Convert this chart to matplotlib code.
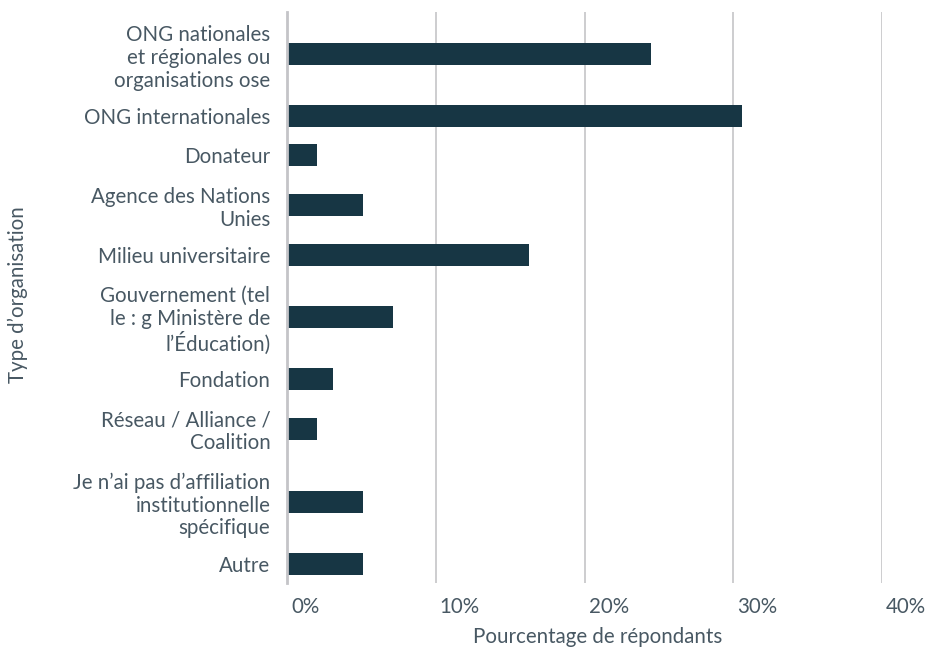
# Type d'organisation des répondants - barres horizontales
import matplotlib
matplotlib.use("Agg")
import matplotlib.pyplot as plt
import matplotlib.transforms as mtransforms
import numpy as np

# data
labels = [
    "ONG nationales\net régionales ou\norganisations ose",
    "ONG internationales",
    "Donateur",
    "Agence des Nations\nUnies",
    "Milieu universitaire",
    "Gouvernement (tel\nle : g Ministère de\nl’Éducation)",
    "Fondation",
    "Réseau / Alliance /\nCoalition",
    "Je n’ai pas d’affiliation\ninstitutionnelle\nspécifique",
    "Autre",
]
values = [24.5, 30.6, 2.0, 5.1, 16.3, 7.1, 3.1, 2.0, 5.1, 5.1]
ticks = [0, 10, 20, 30, 40]
tick_labels = ["0%", "10%", "20%", "30%", "40%"]

# styles
BAR = "#173644"
TEXT = "#485863"
GRID = "#c9c9cc"
plt.rcParams["font.family"] = ["Lato", "DejaVu Sans"]
FS = 14.8

# rows get taller when the label wraps over several lines
n_lines = [lab.count("\n") + 1 for lab in labels]
heights = np.array([1 + 0.6 * (n - 1) for n in n_lines])
centres = np.cumsum(heights) - heights / 2

fig = plt.figure(figsize=(9.31, 6.47), dpi=100)
ax = fig.add_axes([287 / 931, 1 - 583 / 647, (882 - 287) / 931, (583 - 12) / 647])

ax.barh(centres, values, height=0.57, color=BAR, zorder=3)
ax.set_ylim(heights.sum(), 0)
ax.set_xlim(0, 40)

ax.set_yticks(centres)
ax.set_yticklabels(labels, fontsize=FS, color=TEXT, linespacing=1.17)
ax.set_xticks(ticks)
ax.set_xticklabels(tick_labels, fontsize=FS, color=TEXT)
ax.tick_params(axis="both", length=0)
ax.tick_params(axis="y", pad=12)
ax.tick_params(axis="x", pad=10)
offset = mtransforms.ScaledTranslation(4 / 100, 0, fig.dpi_scale_trans)
for lab in ax.get_xticklabels():
    lab.set_horizontalalignment("left")
    lab.set_transform(lab.get_transform() + offset)

ax.grid(axis="x", color=GRID, linewidth=1.3, zorder=0)
for side in ["top", "right", "bottom"]:
    ax.spines[side].set_visible(False)
ax.spines["left"].set_color("#c4c4c8")
ax.spines["left"].set_linewidth(2)
ax.spines["left"].set_zorder(4)

fig.text(598 / 931, 1 - 637 / 647, "Pourcentage de répondants", fontsize=FS,
         color=TEXT, ha="center", va="center")
fig.text(18 / 931, 1 - 295 / 647, "Type d’organisation", fontsize=FS,
         color=TEXT, ha="center", va="center", rotation=90)

fig.savefig("out.png", dpi=100)
